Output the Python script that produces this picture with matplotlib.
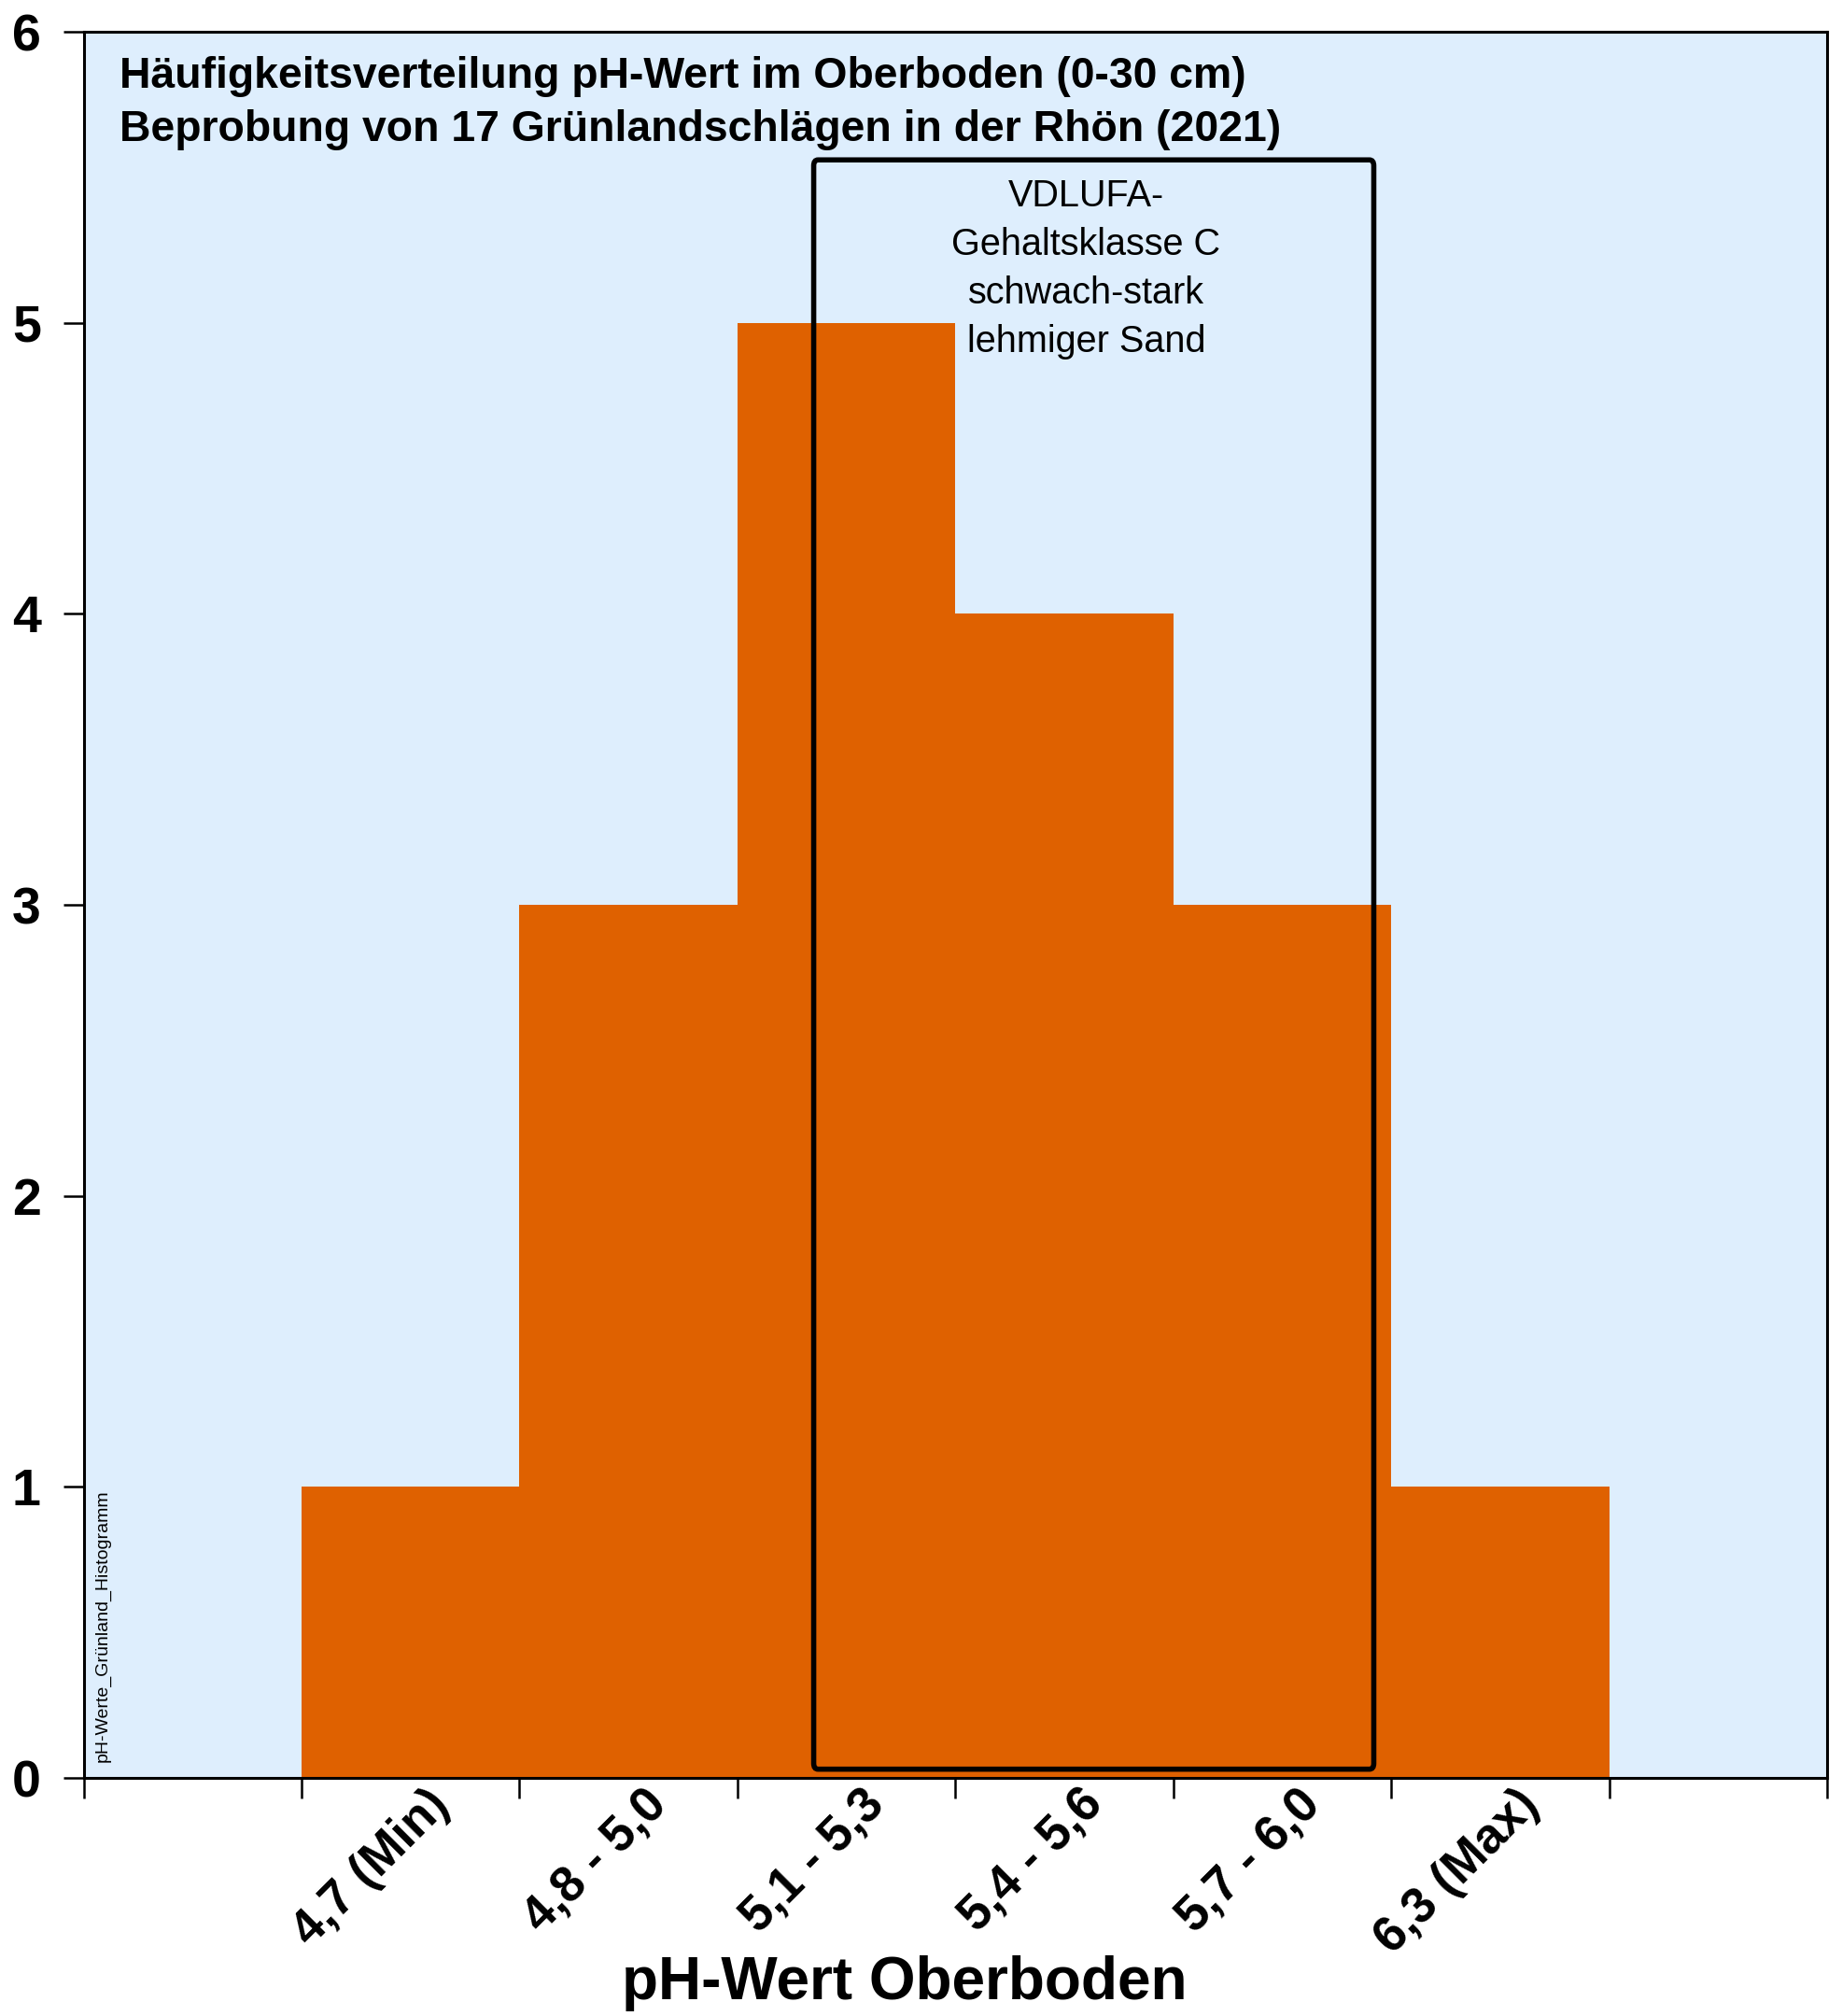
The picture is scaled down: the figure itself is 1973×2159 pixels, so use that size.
import matplotlib
matplotlib.use("Agg")
import matplotlib.pyplot as plt
from matplotlib.patches import FancyBboxPatch
from matplotlib.transforms import ScaledTranslation

plt.rcParams['font.family'] = ['Liberation Sans', 'DejaVu Sans']

# --- data ---
klassen = ["4,7 (Min)", "4,8 - 5,0", "5,1 - 5,3", "5,4 - 5,6", "5,7 - 6,0", "6,3 (Max)"]
anzahl = [1, 3, 5, 4, 3, 1]
titel = ["Häufigkeitsverteilung pH-Wert im Oberboden (0-30 cm)",
         "Beprobung von 17 Grünlandschlägen in der Rhön (2021)"]
box_text = ["VDLUFA-", "Gehaltsklasse C", "schwach-stark", "lehmiger Sand"]

bg_col = "#DEEEFD"
bar_col = "#DF6100"

fig = plt.figure(figsize=(19.73, 21.59), dpi=100)
ax = fig.add_axes([0.0454, 0.1181, 0.9465, 0.8661])
ax.set_facecolor(bg_col)

# bars sit between integer ticks 1..7
pos = list(range(1, len(anzahl) + 1))
ax.bar(pos, anzahl, width=1.0, align='edge', color=bar_col, edgecolor='none', zorder=2)

ax.set_xlim(0, 8)
ax.set_ylim(0, 6)

# ticks = bin edges, class labels drawn at bin centres
ax.set_xticks(range(0, 9))
ax.set_xticklabels([])
ax.tick_params(axis='x', which='major', direction='out', length=16, width=1.8)
shift = ScaledTranslation(24 / 72, -15 / 72, fig.dpi_scale_trans)
for p, lab in zip(pos, klassen):
    ax.text(p + 0.5, 0, lab, transform=ax.get_xaxis_transform() + shift,
            rotation=45, ha='right', va='center', rotation_mode='anchor',
            fontsize=38, fontweight='bold')

ax.set_yticks(range(0, 7))
ax.tick_params(axis='y', direction='out', length=16, width=1.8, pad=17, labelsize=40)
for lab in ax.get_yticklabels():
    lab.set_fontweight('bold')

for s in ax.spines.values():
    s.set_linewidth(2.2)
    s.set_color('black')

# --- VDLUFA box ---
box = FancyBboxPatch((3.35, 0.03), 2.57, 5.53, boxstyle="round,pad=0,rounding_size=0.02",
                     fill=False, edgecolor='black', linewidth=4, zorder=3)
ax.add_patch(box)
for i, t in enumerate(box_text):
    ax.text(4.6, 5.40 - i * 0.167, t, ha='center', va='baseline', fontsize=28.5, zorder=4)

# --- texts ---
fig.text(0.0649, 1 - 94 / 2159, titel[0], fontsize=33.4, fontweight='bold', va='baseline')
fig.text(0.0649, 1 - 151 / 2159, titel[1], fontsize=33.4, fontweight='bold', va='baseline')

ax.text(0.011, 0.009, "pH-Werte_Grünland_Histogramm", transform=ax.transAxes,
        rotation=90, ha='center', va='bottom', fontsize=14)

fig.text(969 / 1973, 1 - 2141 / 2159, "pH-Wert Oberboden", ha='center', va='baseline',
         fontsize=46, fontweight='bold')

fig.savefig("out.png", dpi=100, facecolor='white')
